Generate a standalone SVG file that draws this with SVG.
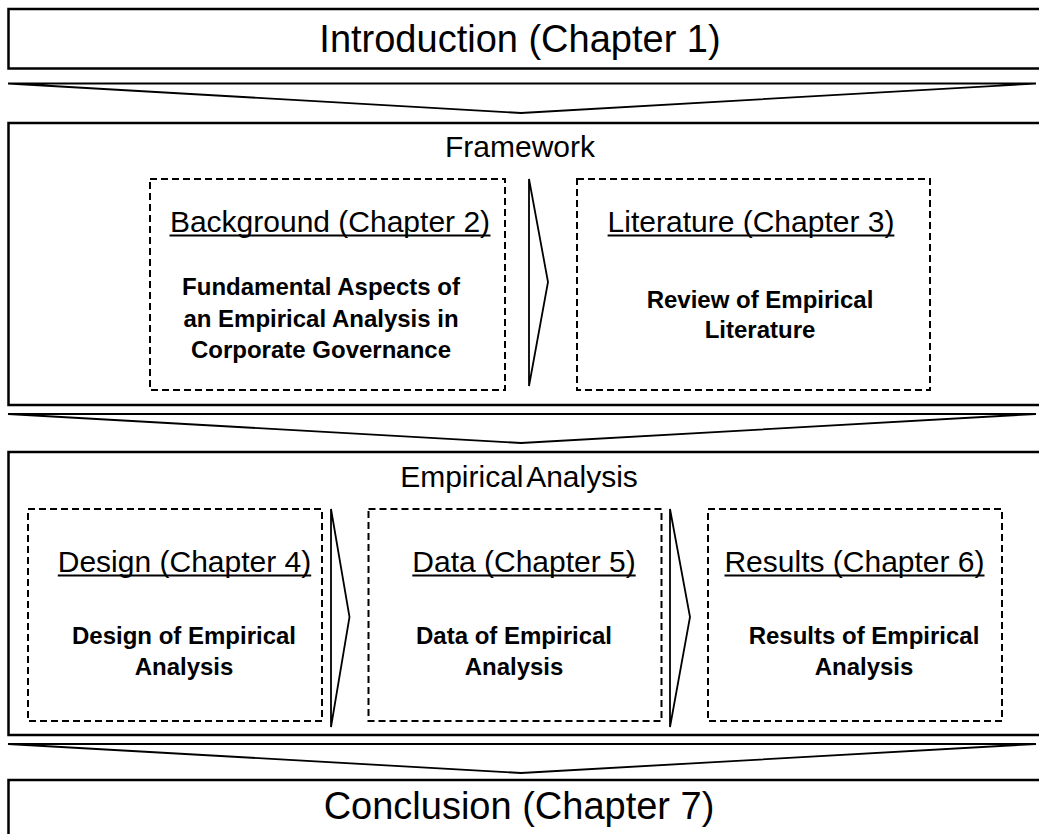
<svg xmlns="http://www.w3.org/2000/svg" width="1039" height="834" viewBox="0 0 1039 834">
  <style>
    .frame { fill: #fff; stroke: #000; stroke-width: 2.5; }
    .part { fill: none; stroke: #000; stroke-width: 2; stroke-dasharray: 7 4; }
    .flow { fill: #fff; stroke: #000; stroke-width: 1.8; stroke-linejoin: miter; }
    .rule { stroke: #000; stroke-width: 2; }
    text { font-family: "Liberation Sans", Arial, sans-serif; fill: #000; text-anchor: middle; }
    .big { font-size: 38px; }
    .head { font-size: 30px; }
    .title { font-size: 30px; }
    .body { font-size: 24px; font-weight: bold; }
  </style>

  <rect width="1039" height="834" fill="#fff"/>

  <!-- Chapter 1 -->
  <g id="introduction">
    <rect class="frame" x="8.5" y="9" width="1045" height="59.5"/>
    <text class="big" x="520" y="52">Introduction (Chapter 1)</text>
  </g>

  <!-- Framework section -->
  <g id="framework">
    <rect class="frame" x="8.5" y="123" width="1045" height="282"/>
    <text class="head" x="520" y="157">Framework</text>
  </g>
  <g id="background">
    <rect class="part" x="150" y="179" width="355" height="211"/>
    <text class="title" x="330" y="232">Background (Chapter 2)</text>
    <line class="rule" x1="169.5" y1="235.5" x2="490.5" y2="235.5"/>
    <text class="body" x="321" y="295">Fundamental Aspects of</text>
    <text class="body" x="321" y="326.5">an Empirical Analysis in</text>
    <text class="body" x="321" y="358">Corporate Governance</text>
  </g>
  <g id="literature">
    <rect class="part" x="577" y="179" width="353" height="211"/>
    <text class="title" x="751" y="232">Literature (Chapter 3)</text>
    <line class="rule" x1="607.6" y1="235.5" x2="894.4" y2="235.5"/>
    <text class="body" x="760" y="308">Review of Empirical</text>
    <text class="body" x="760" y="338">Literature</text>
  </g>

  <!-- Empirical section -->
  <g id="empirical-analysis">
    <rect class="frame" x="8.5" y="452" width="1045" height="283"/>
    <text class="head" x="519" y="487" word-spacing="-4">Empirical Analysis</text>
  </g>
  <g id="design">
    <rect class="part" x="28" y="509" width="294" height="212"/>
    <text class="title" x="184.5" y="572">Design (Chapter 4)</text>
    <line class="rule" x1="57.8" y1="575.5" x2="311.2" y2="575.5"/>
    <text class="body" x="184" y="644">Design of Empirical</text>
    <text class="body" x="184" y="675">Analysis</text>
  </g>
  <g id="data">
    <rect class="part" x="368.5" y="509" width="293" height="212"/>
    <text class="title" x="524" y="572">Data (Chapter 5)</text>
    <line class="rule" x1="412.3" y1="575.5" x2="635.7" y2="575.5"/>
    <text class="body" x="514" y="644">Data of Empirical</text>
    <text class="body" x="514" y="675">Analysis</text>
  </g>
  <g id="results">
    <rect class="part" x="708" y="509" width="294" height="212"/>
    <text class="title" x="854.5" y="572">Results (Chapter 6)</text>
    <line class="rule" x1="724.5" y1="575.5" x2="984.5" y2="575.5"/>
    <text class="body" x="864" y="644">Results of Empirical</text>
    <text class="body" x="864" y="675">Analysis</text>
  </g>

  <!-- Chapter 7 -->
  <g id="conclusion">
    <rect class="frame" x="8.5" y="780" width="1045" height="70"/>
    <text class="big" x="519" y="819">Conclusion (Chapter 7)</text>
  </g>

  <!-- flow chevrons -->
  <g id="connectors">
    <polygon class="flow" points="8,83.5 1036,83.5 521,113"/>
    <polygon class="flow" points="8,414 1036,414 521,443"/>
    <polygon class="flow" points="8,744 1036,744 521,773"/>
    <polygon class="flow" points="529,179 548,282 529,386"/>
    <polygon class="flow" points="331,509 349.5,617 331,727"/>
    <polygon class="flow" points="670,509 690,617 670,727"/>
  </g>
</svg>
